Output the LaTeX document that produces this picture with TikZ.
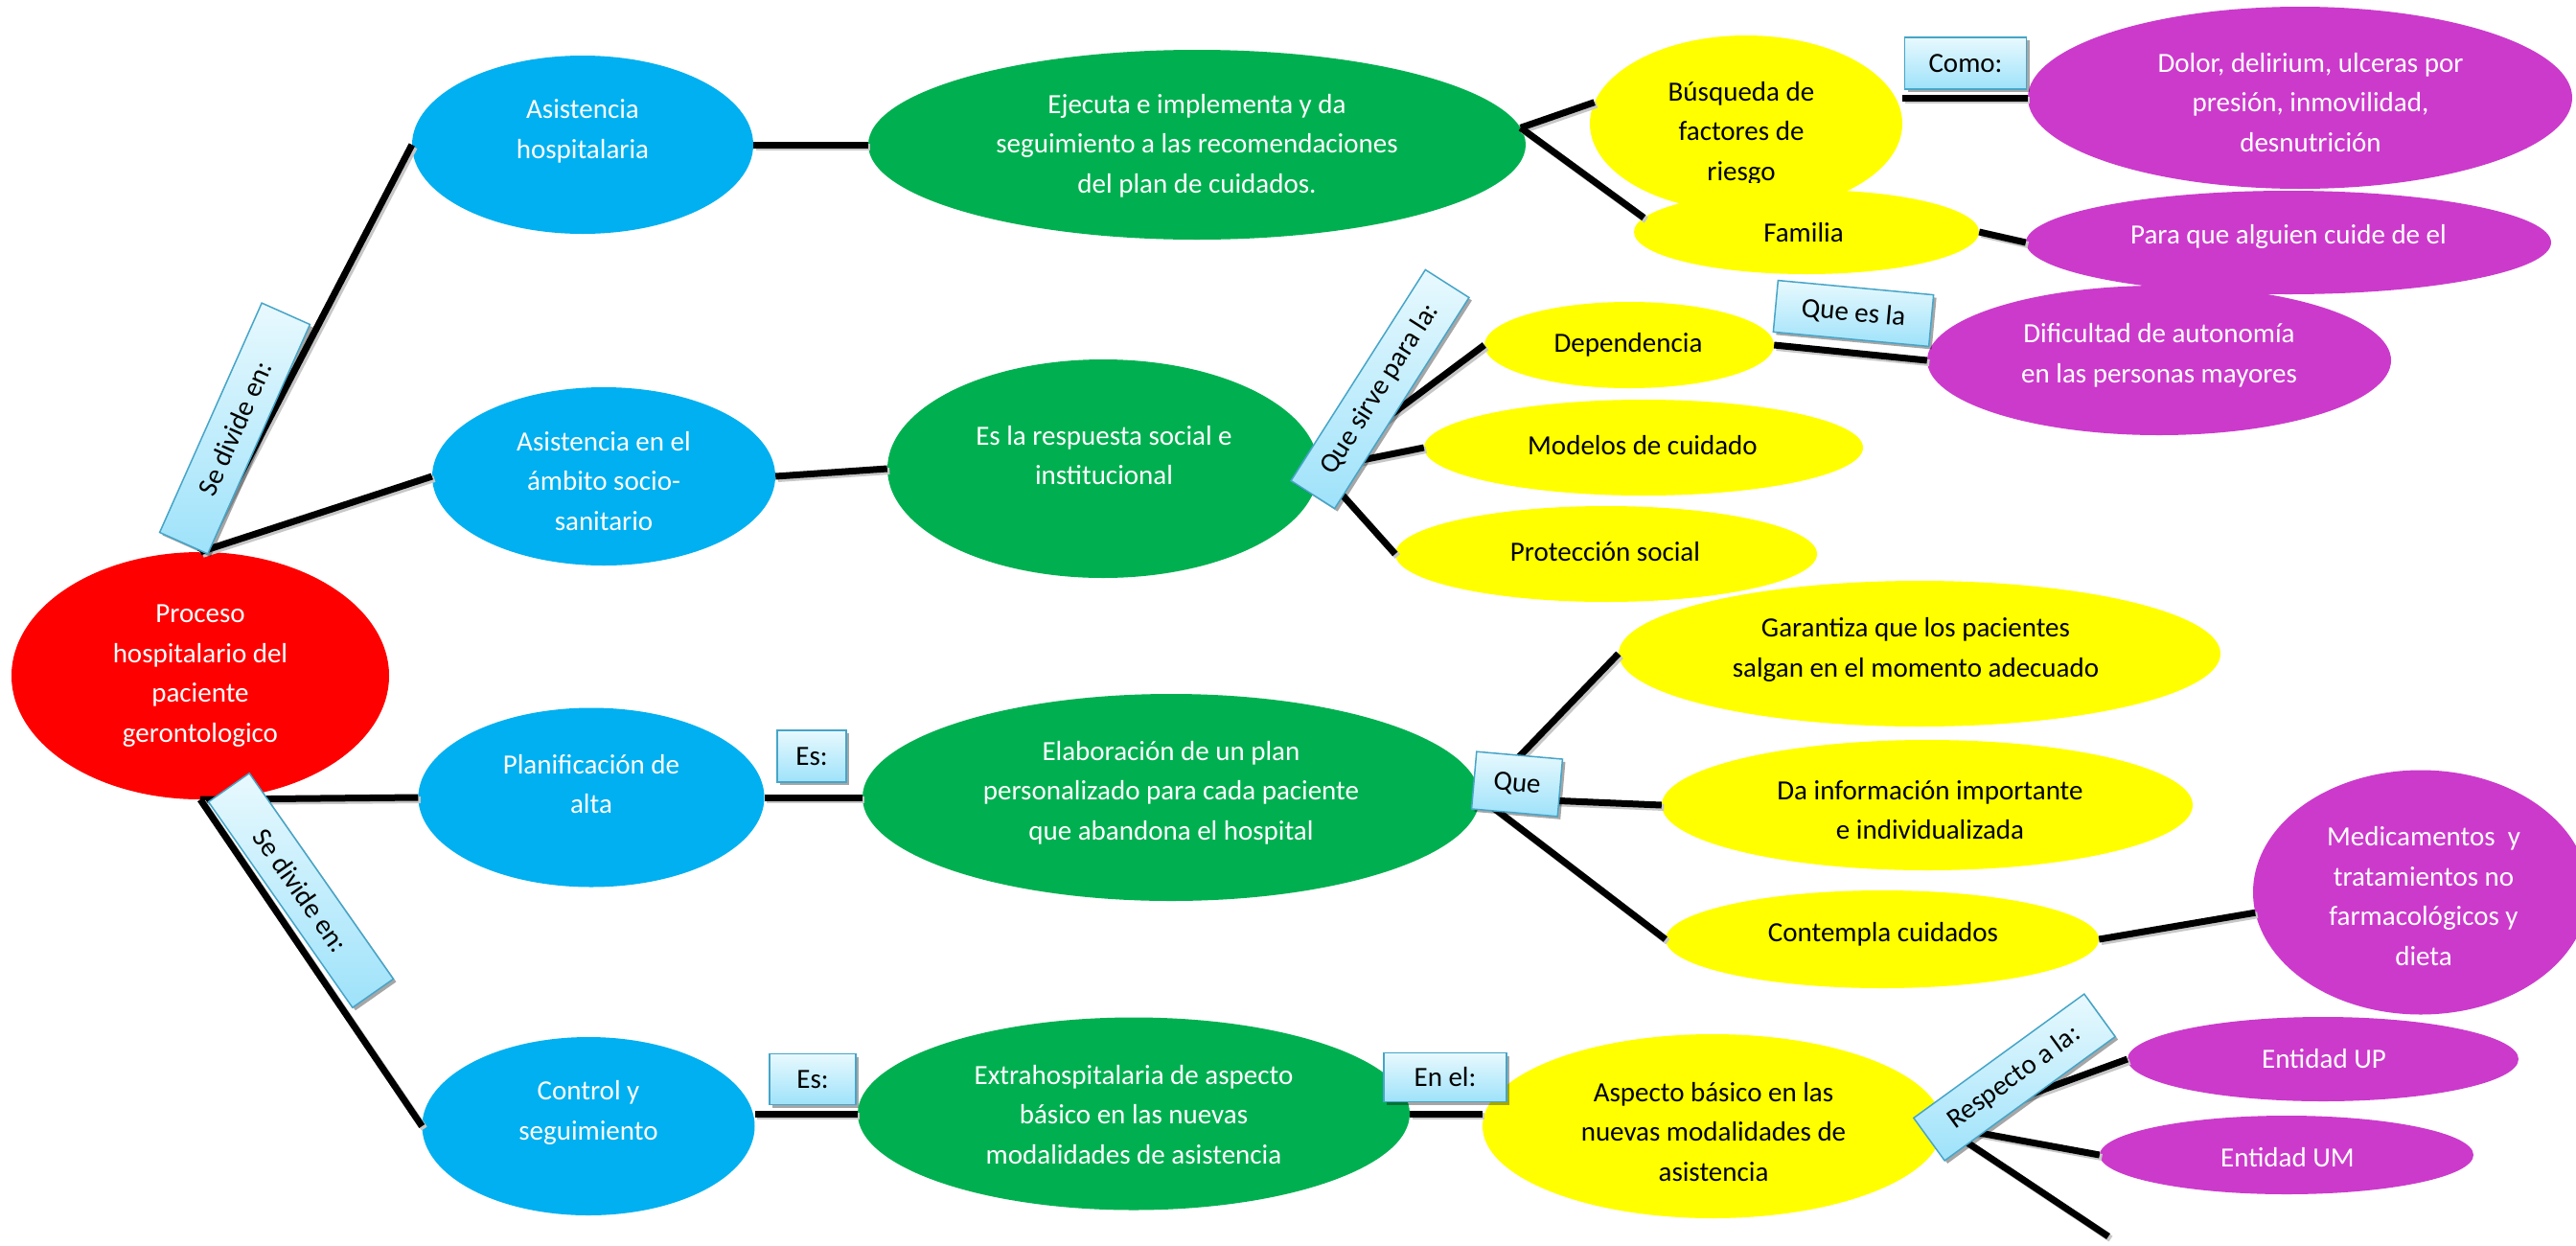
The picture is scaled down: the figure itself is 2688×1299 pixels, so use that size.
\documentclass[tikz,border=0pt]{standalone}
\usepackage{fontspec}
\setmainfont{Carlito}
\usetikzlibrary{shapes.geometric,shadows,calc}
\definecolor{cred}{RGB}{255,0,0}
\definecolor{cblue}{RGB}{0,176,240}
\definecolor{cgreen}{RGB}{0,176,80}
\definecolor{cyel}{RGB}{255,255,0}
\definecolor{cmag}{RGB}{204,58,204}
\definecolor{lbtop}{RGB}{232,249,254}
\definecolor{lbbot}{RGB}{158,226,250}
\definecolor{lbdraw}{RGB}{70,165,200}
\tikzset{
 ell/.style 2 args={shape=ellipse, inner sep=0pt, minimum width=#1pt, minimum height=#2pt, draw=none},
 wtxt/.style={text=white, align=center, font=\fontsize{29}{41.5}\selectfont, inner sep=0pt},
 btxt/.style={text=black, align=center, font=\fontsize{29}{41.5}\selectfont, inner sep=0pt},
 conn/.style={line width=7pt, black, preaction={draw=black!22, line width=7pt, transform canvas={shift={(2.5pt,-2.5pt)}}}},
 lbl/.style 2 args={rectangle, inner sep=0pt, minimum width=#1pt, minimum height=#2pt, draw=lbdraw, line width=1.5pt, top color=lbtop, bottom color=lbbot, font=\fontsize{29}{35}\selectfont, text=black, drop shadow={shadow xshift=3pt, shadow yshift=-3pt, opacity=0.35, fill=black}},
}
\begin{document}
\begin{tikzpicture}[x=1pt,y=-1pt]
\clip (0,0) rectangle (2688,1299);
\fill[white] (0,0) rectangle (2688,1299);

% ellipses
\node[ell={394}{258}, fill=cred] (red) at (209,705) {};
\node[ell={356}{186}, fill=cblue] (b1) at (608,151) {};
\node[ell={358}{186}, fill=cblue] (b2) at (630,497) {};
\node[ell={361}{187}, fill=cblue] (b3) at (617,832) {};
\node[ell={347}{186}, fill=cblue] (b4) at (614,1175) {};
\node[ell={686}{198}, fill=cgreen] (g1) at (1249,151) {};
\node[ell={450}{228}, fill=cgreen] (g2) at (1151,489) {};
\node[ell={644}{216}, fill=cgreen] (g3) at (1222,832) {};
\node[ell={576}{201}, fill=cgreen] (g4) at (1183,1162) {};
\node[ell={568}{190}, fill=cmag] (dl) at (2400,102) {};
\node[ell={484}{156}, fill=cmag] (dif) at (2253,376) {};
\node[ell={548}{108}, fill=cmag] (pq) at (2388,253) {};
\node[ell={350}{255}, fill=cmag] (med) at (2526,931) {};
\node[ell={408}{88}, fill=cmag] (up) at (2424,1105) {};
\node[ell={390}{82}, fill=cmag] (um) at (2386,1205) {};
\node[ell={326}{184}, fill=cyel] (bq) at (1822,129) {};
\begin{scope}
\clip (1600,0) rectangle (2000,190);
\node[btxt] (tbq) at (1817,139) {Búsqueda de\\factores de\\riesgo};
\end{scope}
\node[ell={360}{88}, fill=cyel] (fam) at (1885,242) {};
\node[ell={302}{90}, fill=cyel] (dep) at (1700,360) {};
\node[ell={458}{100}, fill=cyel] (mod) at (1715,467) {};
\node[ell={440}{100}, fill=cyel] (prot) at (1676,578) {};
\node[ell={628}{152}, fill=cyel] (gar) at (2003,682) {};
\node[ell={554}{136}, fill=cyel] (da) at (2011,840) {};
\node[ell={452}{102}, fill=cyel] (cont) at (1964,980) {};
\node[ell={480}{192}, fill=cyel] (asp) at (1787,1175) {};

% texts
\node[wtxt] (tred) at (209,705) {Proceso\\hospitalario del\\paciente\\gerontologico};
\node[wtxt] (tb1) at (608,137) {Asistencia\\hospitalaria};
\node[wtxt] (tb2) at (630,502) {Asistencia en el\\ámbito socio-\\sanitario};
\node[wtxt] (tb3) at (617,818) {Planificación de\\alta};
\node[wtxt] (tb4) at (614,1161) {Control y\\seguimiento};
\node[wtxt] (tg1) at (1249,152) {Ejecuta e implementa y da\\seguimiento a las recomendaciones\\del plan de cuidados.};
\node[wtxt] (tg2) at (1152,475) {Es la respuesta social e\\institucional};
\node[wtxt] (tg3) at (1222,827) {Elaboración de un plan\\personalizado para cada paciente\\que abandona el hospital};
\node[wtxt] (tg4) at (1183,1163) {Extrahospitalaria de aspecto\\básico en las nuevas\\modalidades de asistencia};
\node[btxt] (tfam) at (1882,243) {Familia};
\node[wtxt] (tdl) at (2411,107) {Dolor, delirium, ulceras por\\presión, inmovilidad,\\desnutrición};
\node[wtxt] (tpq) at (2388,247) {Para que alguien cuide de el};
\node[btxt] (tdep) at (1699,360) {Dependencia};
\node[wtxt] (tdif) at (2253,371) {Dificultad de autonomía\\en las personas mayores};
\node[btxt] (tmod) at (1714,465) {Modelos de cuidado};
\node[btxt] (tprot) at (1675,576) {Protección social};
\node[btxt] (tgar) at (1999,678) {Garantiza que los pacientes\\salgan en el momento adecuado};
\node[btxt] (tda) at (2014,845) {Da información importante\\e individualizada};
\node[btxt] (tcont) at (1965,975) {Contempla cuidados};
\node[wtxt] (tmed) at (2529,935) {Medicamentos~ y\\tratamientos no\\farmacológicos y\\dieta};
\node[wtxt] (tup) at (2425,1105) {Entidad UP};
\node[wtxt] (tum) at (2387,1208) {Entidad UM};
\node[btxt] (tasp) at (1788,1181) {Aspecto básico en las\\nuevas modalidades de\\asistencia};

% connectors
\coordinate (freeend) at (2200,1290);
\draw[conn] (red.north) -- (b1.west);
\draw[conn] (red.north) -- (b2.west);
\draw[conn] (red.south) -- (b3.west);
\draw[conn] (red.south) -- (b4.west);
\draw[conn] (b1.east) -- (g1.west);
\draw[conn] (b2.east) -- (g2.west);
\draw[conn] (b3.east) -- (g3.west);
\draw[conn] (b4.east |- g4.west) -- (g4.west);
\draw[conn] (g1.3) -- (bq.172);
\draw[conn] (g1.3) -- (fam.175);
\draw[conn] (bq.east |- dl.west) -- (dl.west);
\draw[conn] (fam.east) -- (pq.west);
\draw[conn] (g2.east) -- (dep.west);
\draw[conn] (g2.east) -- (mod.west);
\draw[conn] (g2.east) -- (prot.west);
\draw[conn] (dep.east) -- (dif.west);
\draw[conn] (g3.east) -- (gar.west);
\draw[conn] (g3.east) -- (da.west);
\draw[conn] (g3.east) -- (cont.west);
\draw[conn] (cont.east) -- (med.187);
\draw[conn] (g4.east) -- (g4.east -| asp.west);
\draw[conn] (asp.east) -- (up.west);
\draw[conn] (asp.east) -- (um.west);
\draw[conn] (asp.east) -- (freeend);

% labels
\node[lbl={262}{55}, rotate=66] (l1) at (245,447) {Se divide en:};
\node[lbl={262}{52}, rotate=-55] (l2) at (314,929) {Se divide en:};
\node[lbl={261}{54}, rotate=57.5] (l3) at (1440,406) {Que sirve para la:};
\node[lbl={127}{54}] (l4) at (2051,66) {Como:};
\node[lbl={163}{54}, rotate=-5.3] (l5) at (1934,327) {Que es la};
\node[lbl={72}{54}] (l6) at (847,789) {Es:};
\node[lbl={90}{53}] (l7) at (848,1126) {Es:};
\node[lbl={90}{60}, rotate=-5] (l8) at (1583,818) {Que};
\node[lbl={128}{51}] (l9) at (1508,1124) {En el:};
\node[lbl={220}{55}, rotate=36] (l10) at (2102,1124) {Respecto a la:};
\end{tikzpicture}
\end{document}
